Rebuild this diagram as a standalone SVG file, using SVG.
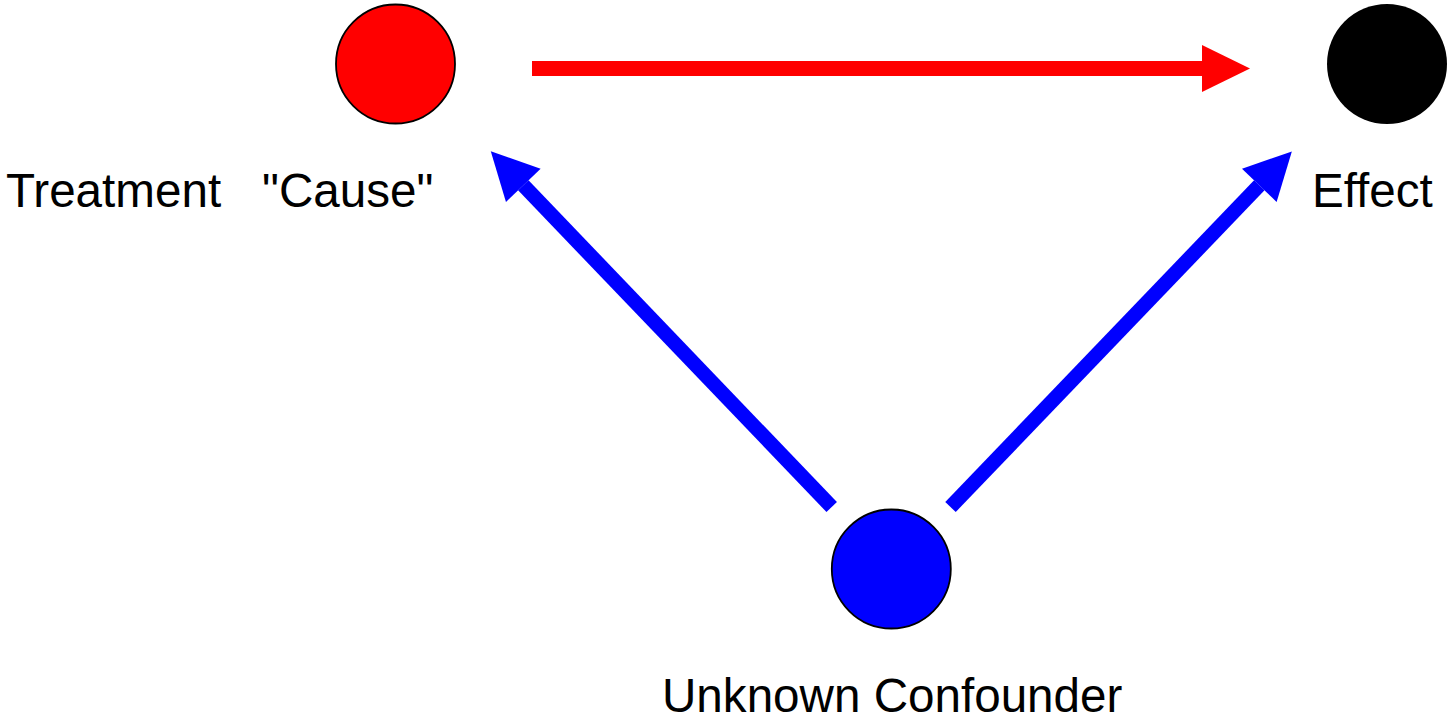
<svg xmlns="http://www.w3.org/2000/svg" width="1447" height="717" viewBox="0 0 1447 717">
<style>
.lbl{font-family:"Liberation Sans",Arial,sans-serif;font-size:47.6px;fill:#000}
.node{stroke:#000;stroke-width:1.8}
.red{stroke:#ff0000;stroke-width:15;fill:none}
.blue{stroke:#0000ff;stroke-width:14.5;fill:none}
</style>
<defs>
<marker id="hr" markerUnits="userSpaceOnUse" markerWidth="48" markerHeight="47" refX="0" refY="23.5" orient="auto" overflow="visible"><path d="M0,0 L48,23.5 L0,47 Z" fill="#ff0000"/></marker>
<marker id="hb" markerUnits="userSpaceOnUse" markerWidth="48" markerHeight="48" refX="0" refY="24" orient="auto" overflow="visible"><path d="M0,0 L47,24 L0,48 Z" fill="#0000ff"/></marker>
</defs>
<rect width="1447" height="717" fill="#fff"/>
<g id="connectors">
<line class="red" x1="532" y1="68.5" x2="1202" y2="68.5" marker-end="url(#hr)"/>
<line class="blue" x1="831.7" y1="507" x2="523.3" y2="185.3" marker-end="url(#hb)"/>
<line class="blue" x1="950.5" y1="507" x2="1259.3" y2="185.3" marker-end="url(#hb)"/>
</g>
<g id="treatment">
<circle class="node" cx="395.5" cy="64" r="59.5" fill="#ff0000"/>
<text class="lbl" x="6" y="206.5">Treatment</text>
<text class="lbl" x="262" y="206.5">"Cause"</text>
</g>
<g id="effect">
<circle cx="1387" cy="64" r="60" fill="#000"/>
<text class="lbl" x="1312" y="206.5">Effect</text>
</g>
<g id="confounder">
<circle class="node" cx="891.3" cy="569" r="59.5" fill="#0000ff"/>
<text class="lbl" x="662" y="712">Unknown Confounder</text>
</g>
</svg>
